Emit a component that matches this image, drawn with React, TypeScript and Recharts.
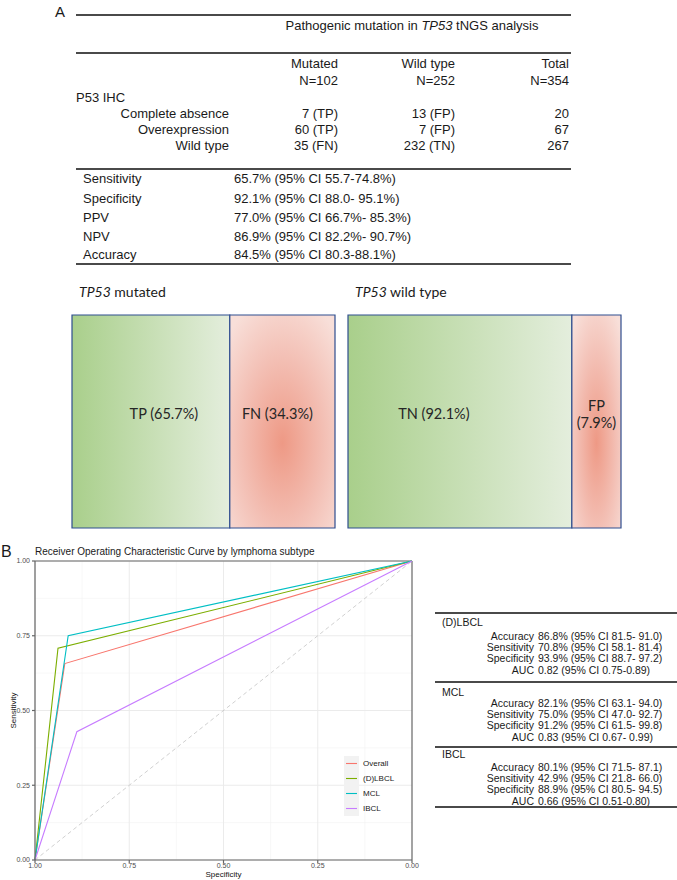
import React from 'react';
import {
  BarChart, Bar, XAxis, YAxis, LabelList, LineChart, Line,
  CartesianGrid, ReferenceLine, Legend,
} from 'recharts';

const SANS = '"Liberation Sans", Arial, sans-serif';
const LATO = 'Lato, "Open Sans", sans-serif';

// panel A – contingency table
const colHeads = ['Mutated', 'Wild type', 'Total'];
const colCounts = ['N=102', 'N=252', 'N=354'];
const ihcRows = ['Complete absence', 'Overexpression', 'Wild type'];
const mutatedCells = ['7 (TP)', '60 (TP)', '35 (FN)'];
const wildCells = ['13 (FP)', '7 (FP)', '232 (TN)'];
const totalCells = ['20', '67', '267'];
const metricNames = ['Sensitivity', 'Specificity', 'PPV', 'NPV', 'Accuracy'];
const metricValues = [
  '65.7% (95% CI 55.7-74.8%)',
  '92.1% (95% CI 88.0- 95.1%)',
  '77.0% (95% CI 66.7%- 85.3%)',
  '86.9% (95% CI 82.2%- 90.7%)',
  '84.5% (95% CI 80.3-88.1%)',
];

// panel A – split boxes (share = drawn width of each part)
const mutatedLabels = ['TP (65.7%)', 'FN (34.3%)'];
const mutatedShare = [60, 40];
const wildLabels = ['TN (92.1%)', 'FP (7.9%)'];
const wildShare = [82, 18];

// panel B – ROC
const rocGroups = ['Overall', '(D)LBCL', 'MCL', 'IBCL'];
const rocColors = ['#F8766D', '#7CAE00', '#00BFC4', '#C77CFF'];
const rocSpecificity = [0.921, 0.939, 0.912, 0.889];
const rocSensitivity = [0.657, 0.708, 0.75, 0.429];
const axisTicks = [0, 0.25, 0.5, 0.75, 1];
const minorTicks = [0.125, 0.375, 0.625, 0.875];

// panel B – subtype table
const subtypes = ['(D)LBCL', 'MCL', 'IBCL'];
const statNames = ['Accuracy', 'Sensitivity', 'Specificity', 'AUC'];
const lbclStats = ['86.8% (95% CI 81.5- 91.0)', '70.8% (95% CI 58.1- 81.4)', '93.9% (95% CI 88.7- 97.2)', '0.82 (95% CI 0.75-0.89)'];
const mclStats = ['82.1% (95% CI 63.1- 94.0)', '75.0% (95% CI 47.0- 92.7)', '91.2% (95% CI 61.5- 99.8)', '0.83 (95% CI 0.67- 0.99)'];
const ibclStats = ['80.1% (95% CI 71.5- 87.1)', '42.9% (95% CI 21.8- 66.0)', '88.9% (95% CI 80.5- 94.5)', '0.66 (95% CI 0.51-0.80)'];
const subtypeStats = [lbclStats, mclStats, ibclStats];

const rocCurves = rocGroups.map((_, i) => [
  { spec: 1, sens: 0 },
  { spec: rocSpecificity[i], sens: rocSensitivity[i] },
  { spec: 0, sens: 1 },
]);
const chanceLine = [{ spec: 1, sens: 0 }, { spec: 0, sens: 1 }];

function Txt({ x, y, children, size = 13, anchor = 'start', font = SANS, color = '#1a1a1a' }: any) {
  const shift = anchor === 'end' ? '-100%' : anchor === 'middle' ? '-50%' : '0';
  return (
    <div
      style={{
        position: 'absolute', left: x, top: y - size / 2, fontSize: size, lineHeight: `${size}px`,
        fontFamily: font, color, whiteSpace: 'nowrap', transform: `translateX(${shift})`,
      }}
    >
      {children}
    </div>
  );
}

function Rule({ x1, x2, y, w = 1.4, color = '#4a4a4a' }: any) {
  return <div style={{ position: 'absolute', left: x1, width: x2 - x1, top: y - w / 2, height: w, background: color }} />;
}

const boxLabel = (text: string, dx: number) => (props: any) => {
  const vb = props.viewBox || props;
  const x = Number(vb.x), y = Number(vb.y), w = Number(vb.width), h = Number(vb.height);
  const cx = x + w / 2 + dx;
  const lines = w < 70 ? text.split(' ') : [text];
  const cy = y + h * 0.46 - (lines.length - 1) * 8;
  return (
    <text x={cx} y={cy} textAnchor="middle" dominantBaseline="central" fontFamily={LATO} fontSize={14.5} fill="#262626">
      {lines.map((l, i) => (
        <tspan key={i} x={cx} dy={i === 0 ? 0 : 17}>{l}</tspan>
      ))}
    </text>
  );
};

function SplitBox({ left, width, labels, share, id, nudge }: any) {
  const row = [{ name: id, a: share[0], b: share[1] }];
  return (
    <div style={{ position: 'absolute', left: left - 1, top: 314 }}>
      <BarChart width={width + 2} height={215} data={row} layout="vertical"
        margin={{ top: 1, right: 1, bottom: 1, left: 1 }} barCategoryGap={0}>
        <defs>
          <linearGradient id={`${id}-green`} x1="0" y1="0" x2="1" y2="0">
            <stop offset="0" stopColor="#A9CF8B" />
            <stop offset="1" stopColor="#E4EEDD" />
          </linearGradient>
          <radialGradient id={`${id}-red`} cx="0.5" cy="0.6" r="0.72">
            <stop offset="0" stopColor="#EE9985" />
            <stop offset="0.55" stopColor="#F3BFB4" />
            <stop offset="1" stopColor="#F8DFD9" />
          </radialGradient>
        </defs>
        <XAxis type="number" hide domain={[0, 100]} />
        <YAxis type="category" dataKey="name" hide />
        <Bar dataKey="a" stackId="s" fill={`url(#${id}-green)`} stroke="#2F4E8F" strokeWidth={1.2} isAnimationActive={false}>
          <LabelList dataKey="a" content={boxLabel(labels[0], nudge[0])} />
        </Bar>
        <Bar dataKey="b" stackId="s" fill={`url(#${id}-red)`} stroke="#2F4E8F" strokeWidth={1.2} isAnimationActive={false}>
          <LabelList dataKey="b" content={boxLabel(labels[1], nudge[1])} />
        </Bar>
      </BarChart>
    </div>
  );
}

const rocLegend = () => (
  <div style={{ fontFamily: SANS, fontSize: 8, color: '#1a1a1a' }}>
    {rocGroups.map((g, i) => (
      <div key={g} style={{ display: 'flex', alignItems: 'center', height: 15 }}>
        <svg width={15} height={15} style={{ display: 'block' }}>
          <rect width={15} height={15} fill="#F2F2F2" />
          <line x1={2} x2={13} y1={7.5} y2={7.5} stroke={rocColors[i]} strokeWidth={1.1} />
        </svg>
        <span style={{ marginLeft: 4 }}>{g}</span>
      </div>
    ))}
  </div>
);

function RocChart() {
  const fmt = (v: number) => v.toFixed(2);
  return (
    <div style={{ position: 'absolute', left: 0, top: 545 }}>
      <LineChart width={420} height={335} margin={{ top: 16, right: 8, bottom: 0, left: 10 }}>
        <CartesianGrid horizontalValues={minorTicks} verticalValues={minorTicks} stroke="#F3F3F3" strokeWidth={0.6} />
        <CartesianGrid horizontalValues={axisTicks} verticalValues={axisTicks} stroke="#EBEBEB" strokeWidth={1} />
        <XAxis dataKey="spec" type="number" domain={[0, 1]} reversed ticks={axisTicks} tickFormatter={fmt}
          height={20} tickSize={3} tickMargin={0} stroke="#666" strokeWidth={1.2}
          tick={{ fontSize: 7, fill: '#4D4D4D', fontFamily: SANS }}
          label={{ value: 'Specificity', position: 'insideBottom', offset: 3, style: { fontSize: 8, fill: '#111', fontFamily: SANS } }} />
        <YAxis dataKey="sens" type="number" domain={[0, 1]} ticks={axisTicks} tickFormatter={fmt}
          width={25} tickSize={3} stroke="#666" strokeWidth={1.2}
          tick={{ fontSize: 7, fill: '#4D4D4D', fontFamily: SANS }}
          label={{ value: 'Sensitivity', angle: -90, position: 'insideLeft', offset: 3, style: { fontSize: 8, fill: '#111', fontFamily: SANS, textAnchor: 'middle' } }} />
        <ReferenceLine y={1} stroke="#666" strokeWidth={1.2} />
        <ReferenceLine x={0} stroke="#666" strokeWidth={1.2} />
        <Line data={chanceLine} dataKey="sens" stroke="#C4C4C4" strokeWidth={0.8} strokeDasharray="4 3"
          dot={false} legendType="none" isAnimationActive={false} />
        {rocGroups.map((g, i) => (
          <Line key={g} name={g} data={rocCurves[i]} dataKey="sens" stroke={rocColors[i]} strokeWidth={1.1}
            dot={false} isAnimationActive={false} />
        ))}
        <Legend layout="vertical" align="center" verticalAlign="middle" content={rocLegend}
          wrapperStyle={{ left: 344, top: 211, width: 'auto' }} />
      </LineChart>
    </div>
  );
}

function SubtypeTable() {
  const ruleYs = [613, 682, 747];
  const titleYs = [622, 692, 754];
  const firstRowYs = [636, 703, 767];
  return (
    <>
      {subtypes.map((s, gi) => (
        <React.Fragment key={s}>
          <Rule x1={435} x2={677} y={ruleYs[gi]} w={1.2} />
          <Txt x={442} y={titleYs[gi]} size={10.5}>{s}</Txt>
          {statNames.map((n, k) => (
            <React.Fragment key={n}>
              <Txt x={534} y={firstRowYs[gi] + k * 11.3} size={10.5} anchor="end">{n}</Txt>
              <Txt x={538} y={firstRowYs[gi] + k * 11.3} size={10.5}>{subtypeStats[gi][k]}</Txt>
            </React.Fragment>
          ))}
        </React.Fragment>
      ))}
      <Rule x1={435} x2={677} y={807} w={1.4} />
    </>
  );
}

export default function App() {
  const colRight = [338, 455, 569];
  const colCells = [mutatedCells, wildCells, totalCells];
  const rowY = [113, 129, 145];
  const metricY = [178, 198, 217, 236, 254];
  return (
    <div style={{ position: 'absolute', left: 0, top: 0, width: 677, height: 880, overflow: 'hidden', background: '#fff' }}>
      {/* panel A */}
      <Txt x={55} y={11} size={15}>A</Txt>
      <Rule x1={76} x2={571} y={15} />
      <Txt x={412} y={25} anchor="middle">
        Pathogenic mutation in <i>TP53</i> tNGS analysis
      </Txt>
      <Rule x1={76} x2={571} y={53} />
      {colHeads.map((h, i) => (
        <React.Fragment key={h}>
          <Txt x={colRight[i]} y={63} anchor="end">{h}</Txt>
          <Txt x={colRight[i]} y={80} anchor="end">{colCounts[i]}</Txt>
        </React.Fragment>
      ))}
      <Txt x={76} y={97}>P53 IHC</Txt>
      {ihcRows.map((r, k) => (
        <React.Fragment key={r}>
          <Txt x={229} y={rowY[k]} anchor="end">{r}</Txt>
          {colCells.map((c, i) => (
            <Txt key={i} x={colRight[i]} y={rowY[k]} anchor="end">{c[k]}</Txt>
          ))}
        </React.Fragment>
      ))}
      <Rule x1={76} x2={571} y={169} />
      {metricNames.map((m, k) => (
        <React.Fragment key={m}>
          <Txt x={83} y={metricY[k]}>{m}</Txt>
          <Txt x={234} y={metricY[k]}>{metricValues[k]}</Txt>
        </React.Fragment>
      ))}
      <Rule x1={76} x2={571} y={264} />

      <Txt x={79} y={292} size={14} font={LATO}><i>TP53</i> mutated</Txt>
      <Txt x={355} y={292} size={14} font={LATO}><i>TP53</i> wild type</Txt>
      <SplitBox left={72} width={263} labels={mutatedLabels} share={mutatedShare} id="mut" nudge={[13, -5]} />
      <SplitBox left={348} width={273} labels={wildLabels} share={wildShare} id="wt" nudge={[-26, 0]} />

      {/* panel B */}
      <Txt x={1} y={552} size={16}>B</Txt>
      <Txt x={35} y={552} size={10}>Receiver Operating Characteristic Curve by lymphoma subtype</Txt>
      <RocChart />
      <SubtypeTable />
    </div>
  );
}
